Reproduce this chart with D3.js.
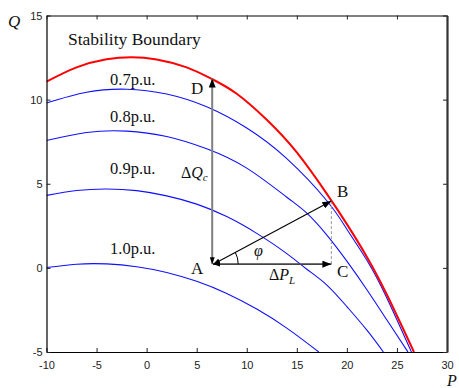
<!DOCTYPE html>
<html>
<head>
<meta charset="utf-8">
<script src="https://cdn.jsdelivr.net/npm/d3@7"></script>
<style>
  body { margin: 0; background: #fff; }
  svg { display: block; }
  .serif { font-family: "Liberation Serif", "Times New Roman", serif; fill: #111; }
  .tick text { font-family: "Liberation Sans", Arial, sans-serif; font-size: 11px; fill: #222; }
</style>
</head>
<body>
<svg id="chart" width="459" height="388"></svg>
<script>
// ---- data ----
const xTicks = [-10, -5, 0, 5, 10, 15, 20, 25, 30];
const yTicks = [-5, 0, 5, 10, 15];

const boundaryP = [-10, -7, -4, -1.5, 1, 4, 6.5, 9, 12, 15, 18, 20, 22, 24, 26.7];
const boundaryQ = [11.07, 11.92, 12.40, 12.52, 12.39, 11.92, 11.23, 10.35, 8.8, 6.86, 4.4, 2.6, 0.65, -1.6, -5];

const v07P = [-10, -6, -2, 2, 6, 10, 14, 18, 20, 22, 24, 26.45];
const v07Q = [9.8, 10.44, 10.62, 10.33, 9.57, 8.31, 6.49, 3.99, 2.3, 0.45, -1.8, -5];

const v08P = [-10, -6, -2, 2, 6, 10, 14, 16, 18, 20, 22, 24, 26.1];
const v08Q = [7.57, 8.05, 8.13, 7.81, 7.08, 5.93, 4.2, 3.25, 1.95, 0.4, -1.3, -3.1, -5];

const v09P = [-10, -7, -4, -1, 2, 5, 8, 11, 14, 16, 18, 20, 22, 23.65];
const v09Q = [4.31, 4.6, 4.69, 4.59, 4.28, 3.79, 3.05, 2.05, 0.85, -0.08, -1.02, -2.3, -3.7, -5];

const v10P = [-10, -7, -4, -1, 2, 5, 8, 11, 14, 17.2];
const v10Q = [0.02, 0.22, 0.235, 0.07, -0.27, -0.8, -1.52, -2.45, -3.58, -5];

const curveLabels = ["0.7p.u.", "0.8p.u.", "0.9p.u.", "1.0p.u."];
const labelQ = [10.85, 8.65, 5.55, 0.8];
const labelP = -3.65;

// operating-point annotation (P, Q)
const ptA = [6.55, 0.22];
const ptB = [18.45, 3.97];
const ptC = [18.45, 0.22];
const ptD = [6.55, 11.25];

// ---- scales ----
const svg = d3.select("#chart");
const x = d3.scaleLinear().domain([-10, 30]).range([46.5, 447]);
const y = d3.scaleLinear().domain([-5, 15]).range([352, 15.5]);

// defs: clip + arrow markers
const defs = svg.append("defs");
defs.append("clipPath").attr("id", "clip")
  .append("rect").attr("x", x(-10)).attr("y", y(15))
  .attr("width", x(30) - x(-10)).attr("height", y(-5) - y(15));

function marker(id, color, len, wid) {
  defs.append("marker").attr("id", id)
    .attr("viewBox", `0 0 ${len} ${wid}`)
    .attr("refX", len).attr("refY", wid / 2)
    .attr("markerWidth", len).attr("markerHeight", wid)
    .attr("markerUnits", "userSpaceOnUse")
    .attr("orient", "auto-start-reverse")
    .append("path").attr("d", `M0,0L${len},${wid / 2}L0,${wid}Z`).attr("fill", color);
}
marker("hBig", "#000", 9, 7);
marker("hSmall", "#000", 7, 5);

// ---- curves ----
const line = d3.line().x(d => x(d[0])).y(d => y(d[1])).curve(d3.curveNatural);
const plot = svg.append("g").attr("clip-path", "url(#clip)");

const blues = [[v07P, v07Q], [v08P, v08Q], [v09P, v09Q], [v10P, v10Q]];
blues.forEach(([P, Q]) => {
  plot.append("path").datum(P.map((p, i) => [p, Q[i]]))
    .attr("d", line).attr("fill", "none").attr("stroke", "#1010ff").attr("stroke-width", 1.1);
});
plot.append("path").datum(boundaryP.map((p, i) => [p, boundaryQ[i]]))
  .attr("d", line).attr("fill", "none").attr("stroke", "#ff0000").attr("stroke-width", 2);

// ---- axes frame ----
const fmt = d => String(d);
const gx = svg.append("g").attr("transform", `translate(0,${y(-5)})`)
  .call(d3.axisBottom(x).tickValues(xTicks).tickSizeInner(-4).tickSizeOuter(0).tickPadding(9).tickFormat(fmt));
const gy = svg.append("g").attr("transform", `translate(${x(-10)},0)`)
  .call(d3.axisLeft(y).tickValues(yTicks).tickSizeInner(-4).tickSizeOuter(0).tickPadding(4).tickFormat(fmt));
const gt = svg.append("g").attr("transform", `translate(0,${y(15)})`)
  .call(d3.axisTop(x).tickValues(xTicks).tickSizeInner(-4).tickSizeOuter(0).tickFormat(""));
const gr = svg.append("g").attr("transform", `translate(${x(30)},0)`)
  .call(d3.axisRight(y).tickValues(yTicks).tickSizeInner(-4).tickSizeOuter(0).tickFormat(""));
[gx, gy, gt].forEach(g => g.select(".domain").attr("stroke", "#000").attr("stroke-width", 1.2));
gr.select(".domain").attr("stroke", "#333").attr("stroke-width", 2.2);
svg.selectAll(".tick line").attr("stroke", "#222");

// axis titles
svg.append("text").attr("class", "serif").attr("x", 8).attr("y", 27)
  .attr("font-size", 17).attr("font-style", "italic").text("Q");
svg.append("text").attr("class", "serif").attr("x", 447).attr("y", 386)
  .attr("font-size", 16).attr("font-style", "italic").text("P");

// labels
svg.append("text").attr("class", "serif").attr("x", 68).attr("y", 45)
  .attr("font-size", 17.5).text("Stability Boundary");
curveLabels.forEach((t, i) => {
  svg.append("text").attr("class", "serif").attr("x", x(labelP)).attr("y", y(labelQ[i]))
    .attr("font-size", 16.5).text(t);
});

// ---- annotation arrows ----
svg.append("line").attr("x1", x(ptB[0])).attr("y1", y(ptB[1])).attr("x2", x(ptC[0])).attr("y2", y(ptC[1]))
  .attr("stroke", "#999").attr("stroke-width", 1).attr("stroke-dasharray", "3,2");
svg.append("line").attr("x1", x(ptA[0])).attr("y1", y(ptA[1])).attr("x2", x(ptD[0])).attr("y2", y(ptD[1]))
  .attr("stroke", "#7f7f7f").attr("stroke-width", 2)
  .attr("marker-start", "url(#hSmall)").attr("marker-end", "url(#hBig)");
svg.append("line").attr("x1", x(ptA[0]) + 1).attr("y1", y(ptA[1])).attr("x2", x(ptC[0])).attr("y2", y(ptC[1]))
  .attr("stroke", "#444").attr("stroke-width", 1.6)
  .attr("marker-start", "url(#hSmall)").attr("marker-end", "url(#hBig)");
svg.append("line").attr("x1", x(ptA[0]) + 1).attr("y1", y(ptA[1])).attr("x2", x(ptB[0])).attr("y2", y(ptB[1]))
  .attr("stroke", "#000").attr("stroke-width", 1.1)
  .attr("marker-start", "url(#hSmall)").attr("marker-end", "url(#hBig)");

// angle arc
const ang = Math.atan2(y(ptA[1]) - y(ptB[1]), x(ptB[0]) - x(ptA[0]));
const r = 26;
const ax = x(ptA[0]), ay = y(ptA[1]);
svg.append("path")
  .attr("d", `M${ax + r},${ay} A${r},${r} 0 0 0 ${ax + r * Math.cos(ang)},${ay - r * Math.sin(ang)}`)
  .attr("fill", "none").attr("stroke", "#000").attr("stroke-width", 1);

// point labels
const lab = (t, px, py, opts = {}) => {
  const el = svg.append("text").attr("class", "serif").attr("x", px).attr("y", py)
    .attr("font-size", opts.size || 17);
  if (opts.italic) el.attr("font-style", "italic");
  el.text(t);
  return el;
};
lab("D", 191, 94);
lab("A", 191, 274);
lab("B", 337, 197);
lab("C", 337, 277);
lab("φ", 254, 256, { italic: true, size: 16 });

const dq = svg.append("text").attr("class", "serif").attr("x", 181).attr("y", 178).attr("font-size", 16);
dq.append("tspan").text("Δ");
dq.append("tspan").attr("font-style", "italic").text("Q");
dq.append("tspan").attr("font-style", "italic").attr("font-size", 11).attr("dy", 3).text("c");

const dp = svg.append("text").attr("class", "serif").attr("x", 269).attr("y", 280).attr("font-size", 16);
dp.append("tspan").text("Δ");
dp.append("tspan").attr("font-style", "italic").text("P");
dp.append("tspan").attr("font-style", "italic").attr("font-size", 11).attr("dy", 4).text("L");
</script>
</body>
</html>
